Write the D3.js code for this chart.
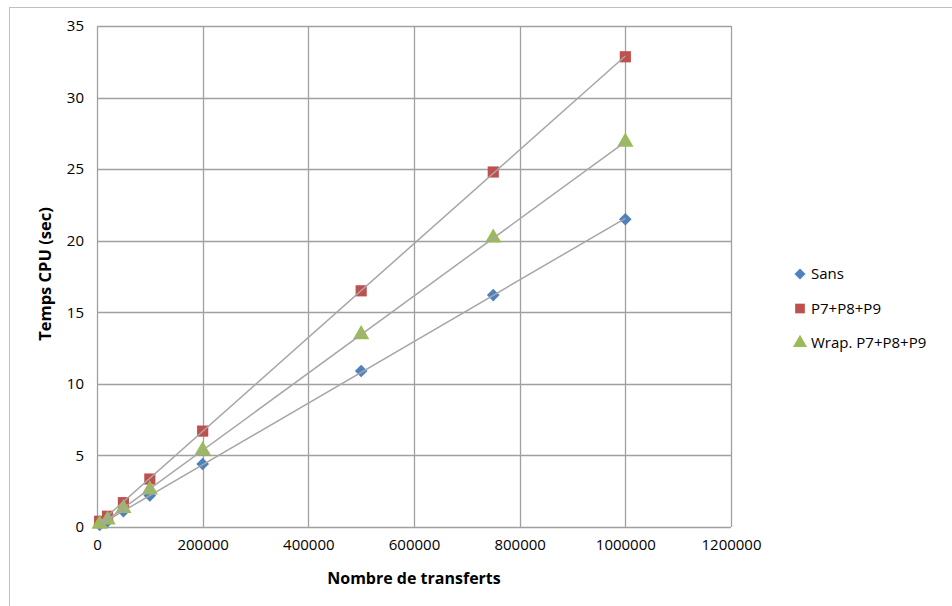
<!DOCTYPE html>
<html>
<head>
<meta charset="utf-8">
<script src="https://cdn.jsdelivr.net/npm/d3@7"></script>
<style>
  body { margin: 0; background: #fff; }
  svg { font-family: "Open Sans", "DejaVu Sans", sans-serif; }
</style>
</head>
<body>
<div id="chart"></div>
<script>
// data
var transferts = [5000, 20000, 50000, 100000, 200000, 500000, 750000, 1000000];
var sans = [0.15, 0.4, 1.1, 2.2, 4.4, 10.9, 16.2, 21.5];
var p789 = [0.4, 0.75, 1.7, 3.35, 6.7, 16.5, 24.8, 32.85];
var wrap = [0.2, 0.5, 1.3, 2.6, 5.35, 13.45, 20.2, 26.9];
var xTicks = [0, 200000, 400000, 600000, 800000, 1000000, 1200000];
var yTicks = [0, 5, 10, 15, 20, 25, 30, 35];

var series = [
  {name: 'Sans', values: sans, color: '#4F81BD', shape: 'diamond'},
  {name: 'P7+P8+P9', values: p789, color: '#C0504D', shape: 'square'},
  {name: 'Wrap. P7+P8+P9', values: wrap, color: '#9BBB59', shape: 'triangle'}
];

var width = 952, height = 606;
var plot = {left: 97, top: 26, right: 731, bottom: 527};

// excel-like marker shapes; the diamond is a square turned 45deg
function marker(shape, big) {
  var k = big ? 1 : 0.75;
  if (shape === 'triangle') return d3.symbol().type(d3.symbolTriangle).size(115 * k)();
  if (shape === 'square') return d3.symbol().type(d3.symbolSquare).size(125 * k)();
  return d3.symbol().type(d3.symbolSquare).size(80 * k)();
}
function rot(shape) { return shape === 'diamond' ? ' rotate(45)' : ''; }

var svg = d3.select('#chart').append('svg')
  .attr('width', width)
  .attr('height', height);

// outer chart frame
svg.append('rect')
  .attr('x', 9.5).attr('y', 7.5)
  .attr('width', 960).attr('height', 620)
  .attr('fill', 'none')
  .attr('stroke', '#bfbfbf');

var x = d3.scaleLinear().domain([0, 1200000]).range([plot.left, plot.right]);
var y = d3.scaleLinear().domain([0, 35]).range([plot.bottom, plot.top]);

// grid
svg.append('g').selectAll('line')
  .data(xTicks)
  .enter().append('line')
    .attr('x1', function(d) { return Math.round(x(d)) + 0.5; })
    .attr('x2', function(d) { return Math.round(x(d)) + 0.5; })
    .attr('y1', plot.top).attr('y2', plot.bottom)
    .attr('stroke', '#a0a0a0').attr('stroke-width', 1.3);

svg.append('g').selectAll('line')
  .data(yTicks)
  .enter().append('line')
    .attr('y1', function(d) { return Math.round(y(d)) + 0.5; })
    .attr('y2', function(d) { return Math.round(y(d)) + 0.5; })
    .attr('x1', plot.left).attr('x2', plot.right)
    .attr('stroke', '#a0a0a0').attr('stroke-width', 1.3);

// axes labels (no domain / ticks, Excel style)
var xAxis = svg.append('g')
  .attr('transform', 'translate(0,' + plot.bottom + ')')
  .call(d3.axisBottom(x).tickValues(xTicks).tickSize(0).tickPadding(12).tickFormat(d3.format('d')));
xAxis.select('.domain').remove();
xAxis.selectAll('text').attr('font-size', 15).attr('fill', '#000').attr('font-family', 'Open Sans');

var yAxis = svg.append('g')
  .attr('transform', 'translate(' + plot.left + ',0)')
  .call(d3.axisLeft(y).tickValues(yTicks).tickSize(0).tickPadding(13));
yAxis.select('.domain').remove();
yAxis.selectAll('text').attr('font-size', 15).attr('fill', '#000').attr('font-family', 'Open Sans');

svg.append('text')
  .attr('x', 414).attr('y', 584)
  .attr('text-anchor', 'middle')
  .attr('font-size', 16).attr('font-weight', 'bold')
  .text('Nombre de transferts');

svg.append('text')
  .attr('transform', 'translate(51,' + 274 + ') rotate(-90)')
  .attr('text-anchor', 'middle')
  .attr('font-size', 16.5).attr('font-weight', 'bold')
  .text('Temps CPU (sec)');

// markers
series.forEach(function(s) {
  svg.append('g').selectAll('path')
    .data(s.values)
    .enter().append('path')
      .attr('d', marker(s.shape, true))
      .attr('transform', function(d, i) { return 'translate(' + x(transferts[i]) + ',' + y(d) + ')' + rot(s.shape); })
      .attr('fill', s.color);
});

// linear trendlines (least squares), drawn over the markers
series.forEach(function(s) {
  var n = transferts.length;
  var mx = d3.mean(transferts), my = d3.mean(s.values);
  var sxy = 0, sxx = 0;
  for (var i = 0; i < n; i++) {
    sxy += (transferts[i] - mx) * (s.values[i] - my);
    sxx += (transferts[i] - mx) * (transferts[i] - mx);
  }
  var slope = sxy / sxx, icpt = my - slope * mx;
  var ends = d3.extent(transferts);
  svg.append('line')
    .attr('x1', x(ends[0])).attr('y1', y(icpt + slope * ends[0]))
    .attr('x2', x(ends[1])).attr('y2', y(icpt + slope * ends[1]))
    .attr('stroke', '#a6a6a6').attr('stroke-width', 1.5);
});

// legend
var legend = svg.append('g').selectAll('g')
  .data(series)
  .enter().append('g')
    .attr('transform', function(d, i) { return 'translate(800,' + (274 + i * 34.5) + ')'; });

legend.append('path')
  .attr('d', function(d) { return marker(d.shape, false); })
  .attr('transform', function(d) { return rot(d.shape).trim(); })
  .attr('fill', function(d) { return d.color; });

legend.append('text')
  .attr('x', 11).attr('dy', '0.36em')
  .attr('font-size', 15)
  .text(function(d) { return d.name; });
</script>
</body>
</html>
